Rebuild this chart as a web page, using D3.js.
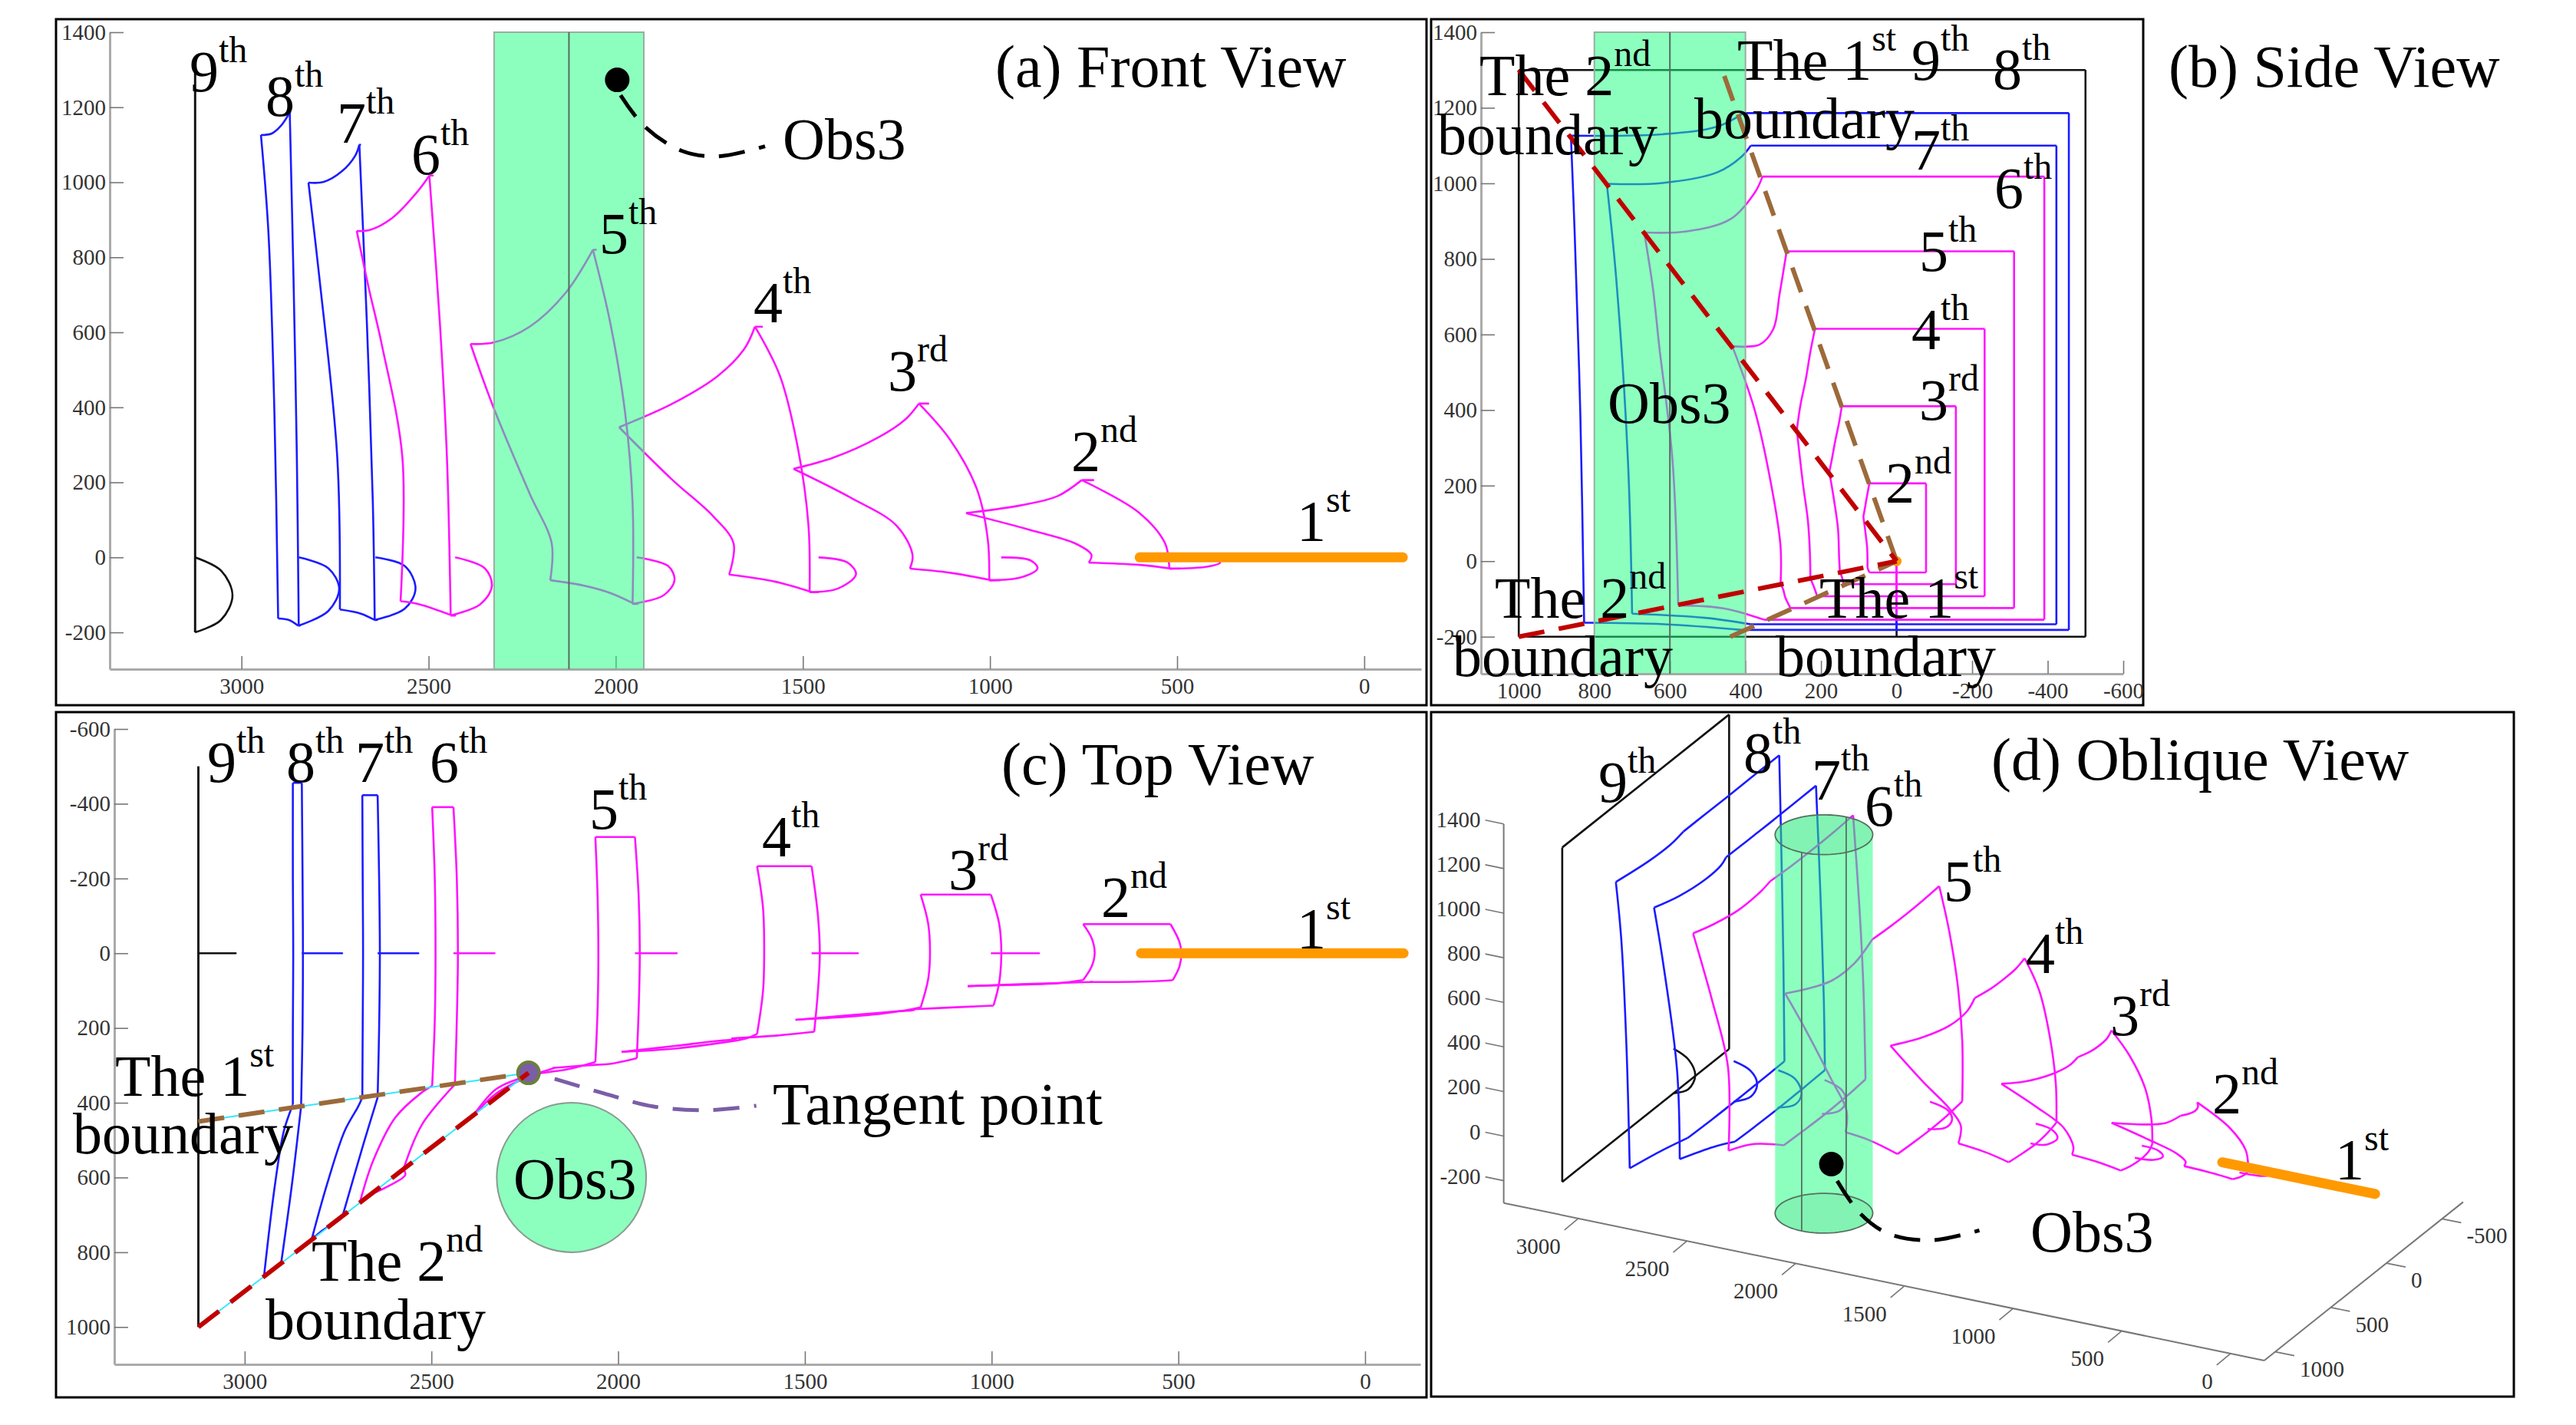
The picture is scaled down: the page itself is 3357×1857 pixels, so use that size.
<!DOCTYPE html>
<html>
<head>
<meta charset="utf-8">
<script src="https://cdn.jsdelivr.net/npm/d3@7/dist/d3.min.js"></script>
<style>
  html, body { margin: 0; padding: 0; background: #fff; }
  svg { display: block; }
  text { font-family: "Liberation Serif", serif; }
</style>
</head>
<body>
<div id="chart"></div>
<script>
// each wave is a list of curve pieces, points are [x, y, z]
// pieces: outer edge, lower edge, bottom arc, inner side, top arc, upper edge, half circle at y=0
const wave2 = [
  [[755, -78, 206], [604, -78, 121], [532, -78, 37], [521, -78, -30]],
  [[521, -78, -30], [497, -30, -30], [492, 0, -30], [497, 35, -30], [515, 72, -30]],
  [[515, 72, -30], [600, 76, -20], [736, 77, -14]],
  [[736, 77, -14], [729, 77, 7], [772, 78, 37], [892, 82, 73], [1064, 88, 118]],
  [[1064, 88, 118], [916, 84, 139], [820, 80, 163], [755, 72, 206]],
  [[755, 72, 206], [732, 35, 206], [724, 0, 206], [732, -40, 206], [755, -78, 206]],
  [[520, 0, 0], [400, 0, -6], [385, 0, -14], [420, 0, -25], [521, 0, -30]]
];
const wave3 = [
  [[1190, -157, 410], [1107, -157, 314], [1035, -157, 182], [1006, -157, 49], [1002, -157, -61]],
  [[1002, -157, -61], [980, -80, -61], [974, 0, -61], [980, 80, -61], [995, 140, -61]],
  [[995, 140, -61], [1107, 145, -41], [1214, 150, -30]],
  [[1214, 150, -30], [1207, 152, 7], [1250, 155, 85], [1370, 165, 158], [1525, 178, 236]],
  [[1525, 178, 236], [1418, 172, 266], [1298, 162, 320], [1226, 152, 368], [1190, 145, 410]],
  [[1190, 145, 410], [1170, 70, 410], [1165, 0, 410], [1170, -80, 410], [1190, -157, 410]],
  [[970, 0, 0], [892, 0, -8], [873, 0, -29], [916, 0, -53], [1002, 0, -61]]
];
const wave4 = [
  [[1628, -233, 615], [1561, -233, 483], [1513, -233, 290], [1485, -233, 85], [1482, -233, -93]],
  [[1482, -233, -93], [1465, -100, -93], [1460, 0, -93], [1465, 100, -93], [1475, 210, -93]],
  [[1475, 210, -93], [1573, 220, -65], [1697, 228, -46]],
  [[1697, 228, -46], [1685, 230, 37], [1740, 235, 110], [1848, 248, 206], [1991, 264, 347]],
  [[1991, 264, 347], [1848, 255, 410], [1728, 240, 483], [1657, 228, 555], [1628, 216, 615]],
  [[1628, 216, 615], [1612, 100, 615], [1609, 0, 615], [1612, -120, 615], [1628, -233, 615]],
  [[1458, 0, 0], [1382, 0, -13], [1358, 0, -45], [1406, 0, -83], [1482, 0, -93]]
];
const wave5 = [
  [[2061, -311, 820], [2015, -311, 627], [1975, -311, 386], [1955, -311, 146], [1955, -311, -124]],
  [[1955, -311, -124], [1945, -150, -124], [1942, 0, -124], [1945, 150, -124], [1950, 281, -124]],
  [[1950, 281, -124], [2015, 295, -95], [2087, 300, -75], [2175, 307, -61]],
  [[2175, 307, -61], [2171, 307, 37], [2230, 326, 170], [2326, 375, 398], [2388, 435, 569]],
  [[2388, 435, 569], [2326, 363, 573], [2230, 326, 615], [2134, 310, 705], [2061, 291, 820]],
  [[2061, 291, 820], [2055, 150, 820], [2053, 0, 820], [2055, -150, 820], [2061, -311, 820]],
  [[1944, 0, 0], [1860, 0, -23], [1843, 0, -61], [1872, 0, -101], [1955, 0, -124]]
];
const wave6 = [
  [[2498, -391, 1018], [2470, -391, 627], [2451, -391, 266], [2441, -391, -155]],
  [[2441, -391, -155], [2432, -200, -155], [2429, 0, -155], [2432, 180, -155], [2437, 351, -155]],
  [[2437, 351, -155], [2525, 458, -125], [2575, 578, -117]],
  [[2575, 578, -117], [2570, 593, 266], [2625, 628, 567], [2661, 645, 723], [2692, 668, 870]],
  [[2692, 668, 870], [2656, 555, 873], [2597, 440, 905], [2529, 375, 976], [2498, 355, 1018]],
  [[2498, 355, 1018], [2491, 180, 1018], [2489, 0, 1018], [2491, -200, 1018], [2498, -391, 1018]],
  [[2429, 0, 0], [2350, 0, -29], [2331, 0, -77], [2362, 0, -125], [2441, 0, -155]]
];
const wave7 = [
  [[2685, -423, 1100], [2665, -423, 627], [2649, -423, 146], [2644, -423, -167]],
  [[2644, -423, -167], [2640, -200, -167], [2638, 0, -167], [2640, 200, -167], [2644, 386, -167]],
  [[2644, 386, -167], [2681, 507, -150], [2737, 700, -139]],
  [[2737, 700, -139], [2744, 711, 266], [2792, 742, 747], [2821, 767, 999]],
  [[2821, 767, 999], [2780, 620, 1001], [2732, 475, 1029], [2696, 410, 1071], [2685, 386, 1100]],
  [[2685, 386, 1100], [2684, 200, 1100], [2683, 0, 1100], [2684, -200, 1100], [2685, -423, 1100]],
  [[2642, 0, 0], [2564, 0, -23], [2535, 0, -83], [2564, 0, -137], [2644, 0, -167]]
];
const wave8 = [
  [[2871, -456, 1186], [2861, -456, 747], [2852, -456, 266], [2847, -456, -182]],
  [[2847, -456, -182], [2845, -200, -182], [2844, 0, -182], [2845, 200, -182], [2849, 410, -182]],
  [[2849, 410, -182], [2873, 615, -167], [2902, 827, -163]],
  [[2902, 827, -163], [2912, 837, 386], [2928, 852, 867], [2948, 862, 1126]],
  [[2948, 862, 1126], [2919, 620, 1130], [2895, 475, 1150], [2871, 405, 1186]],
  [[2871, 405, 1186], [2871, 200, 1186], [2870, 0, 1186], [2871, -200, 1186], [2871, -456, 1186]],
  [[2847, 0, 0], [2768, 0, -29], [2739, 0, -83], [2768, 0, -143], [2847, 0, -182]]
];
const wave9 = [
  [[3124, -500, 1300], [3124, -500, -200]],
  [[3124, -500, -200], [3124, 1000, -200]],
  [[3124, 1000, -200], [3124, 1000, 1300]],
  [[3124, 1000, 1300], [3124, -500, 1300]],
  [[3124, 0, 0], [3055, 0, -35], [3024, 0, -101], [3055, 0, -167], [3124, 0, -200]]
];
const wave1 = [[600, 0, 0], [-103, 0, 0]];

const obsCenter = [2125, 600];
const obsRadius = 200;
const obsHeight = [-298, 1400];

const boundary2Side = [
  [[0, 1000, 1300], [0, 0, 0]],
  [[0, 1000, -200], [0, 0, 0]]
];
const boundary1Side = [
  [[0, 456, 1284], [0, 0, 0]],
  [[0, 440, -200], [0, 0, 0]]
];
const boundary1Top = [[3124, 450, 0], [2240, 320, 0]];
const boundary2Top = [[3124, 1000, 0], [2240, 320, 0]];
const tangentPoint = [2240, 320, 0];
const tangentCallout = [[2170, 336, 0], [2045, 373, 0], [1905, 410, 0], [1762, 420, 0], [1630, 408, 0]];

const obsDotFront = [1996, 0, 1273];
const obsCalloutFront = [[1987, 0, 1232], [1924, 0, 1150], [1824, 0, 1084], [1728, 0, 1069], [1601, 0, 1096]];
const obsDotOblique = [2398, 0, -371];
const obsCalloutOblique = [[2371, 0, -441], [2267, 0, -565], [2137, 0, -630], [1943, 0, -621], [1717, 0, -531]];

const xTicks = [3000, 2500, 2000, 1500, 1000, 500, 0];
const zTicks = [1400, 1200, 1000, 800, 600, 400, 200, 0, -200];
const sideTicks = [1000, 800, 600, 400, 200, 0, -200, -400, -600];
const topTicks = [-600, -400, -200, 0, 200, 400, 600, 800, 1000];
const obliqueYTicks = [1000, 500, 0, -500];

// text tables: [main text, superscript, left, baseline]
const frontLabels = [
  ["9", "th", 247, 119], ["8", "th", 346, 151], ["7", "th", 439, 186], ["6", "th", 536, 227],
  ["5", "th", 781, 330], ["4", "th", 982, 420], ["3", "rd", 1157, 509], ["2", "nd", 1396, 614],
  ["1", "st", 1690, 705], ["Obs3", "", 1020, 207]
];
const sideLabels = [
  ["The 2", "nd", 1928, 124], ["boundary", "", 1873, 201], ["The 1", "st", 2264, 104], ["boundary", "", 2208, 180],
  ["9", "th", 2491, 104], ["8", "th", 2597, 116], ["7", "th", 2491, 221], ["6", "th", 2599, 271],
  ["5", "th", 2501, 353], ["4", "th", 2491, 455], ["3", "rd", 2501, 547], ["2", "nd", 2457, 655],
  ["Obs3", "", 2095, 551], ["The 2", "nd", 1948, 805], ["boundary", "", 1893, 881],
  ["The 1", "st", 2371, 805], ["boundary", "", 2314, 881]
];
const topLabels = [
  ["9", "th", 270, 1019], ["8", "th", 373, 1019], ["7", "th", 463, 1019], ["6", "th", 560, 1019],
  ["5", "th", 768, 1080], ["4", "th", 993, 1116], ["3", "rd", 1236, 1159], ["2", "nd", 1435, 1195],
  ["1", "st", 1690, 1236], ["The 1", "st", 150, 1428], ["boundary", "", 95, 1503],
  ["The 2", "nd", 406, 1669], ["boundary", "", 346, 1745],
  ["Obs3", "", 669, 1562]
];
const obliqueLabels = [
  ["9", "th", 2083, 1045], ["8", "th", 2272, 1007], ["7", "th", 2361, 1042], ["6", "th", 2430, 1076],
  ["5", "th", 2533, 1174], ["4", "th", 2640, 1268], ["3", "rd", 2750, 1349], ["2", "nd", 2883, 1451],
  ["1", "st", 3043, 1537], ["Obs3", "", 2646, 1631]
];
const titleLabels = [
  ["(a) Front View", "", 1297, 113], ["(b) Side View", "", 2826, 113],
  ["(c) Top View", "", 1305, 1022], ["(d) Oblique View", "", 2595, 1016],
  ["Tangent point", "", 1007, 1465]
];

const width = 3357;
const height = 1857;
const black = "#111";
const blue = "#1c1cff";
const magenta = "#ff14ff";
const orange = "#ff9900";
const obsFill = "rgba(29,255,127,0.51)";
const red = "#c00000";
const brown = "#9c6a3a";
const purple = "#7b5ea7";

const waves = [
  { data: wave9, color: black },
  { data: wave8, color: blue },
  { data: wave7, color: blue },
  { data: wave6, color: magenta },
  { data: wave5, color: magenta },
  { data: wave4, color: magenta },
  { data: wave3, color: magenta },
  { data: wave2, color: magenta }
];

const svg = d3.select("#chart").append("svg").attr("width", width).attr("height", height);
svg.append("rect").attr("width", width).attr("height", height).attr("fill", "#fff");

// panel frames
[[73, 25, 1786, 894], [1865, 25, 928, 894], [73, 928, 1786, 893], [1865, 928, 1411, 892]].forEach((f) => {
  svg.append("rect")
    .attr("x", f[0]).attr("y", f[1]).attr("width", f[2]).attr("height", f[3])
    .attr("fill", "none").attr("stroke", "#000").attr("stroke-width", 3);
});

// scales for the flat views
const xFront = d3.scaleLinear().domain([3352, -152]).range([143, 1852]);
const zFront = d3.scaleLinear().domain([-298, 1400]).range([872, 42]);
const ySide = d3.scaleLinear().domain([1100, -600]).range([1930, 2767]);
const zSide = d3.scaleLinear().domain([-298, 1400]).range([878, 42]);
const xTop = d3.scaleLinear().domain([3349, -148]).range([149, 1851]);
const yTop = d3.scaleLinear().domain([-600, 1100]).range([950, 1778]);

// oblique view: each data axis adds its own screen offset
const obX = d3.scaleLinear().domain([0, 3000]).range([3066, 2216]);
const obXdown = d3.scaleLinear().domain([0, 3000]).range([1637, 1461]);
const obY = d3.scaleLinear().domain([0, 1000]).range([0, -145]);
const obYdown = d3.scaleLinear().domain([0, 1000]).range([0, 115.5]);
const obZ = d3.scaleLinear().domain([-300, 1400]).range([0, -493.9]);

const front = (p) => [xFront(p[0]), zFront(p[2])];
const side = (p) => [ySide(p[1]), zSide(p[2])];
const top_ = (p) => [xTop(p[0]), yTop(p[1])];
const oblique = (p) => [obX(p[0]) + obY(p[1]), obXdown(p[0]) + obYdown(p[1]) + obZ(p[2])];

const curve = d3.line().curve(d3.curveCatmullRom.alpha(0.5));

function drawWaves(g, project) {
  waves.forEach((w) => {
    g.selectAll(null)
      .data(w.data)
      .enter()
      .append("path")
      .attr("d", (piece) => curve(piece.map(project)))
      .attr("fill", "none")
      .attr("stroke", w.color)
      .attr("stroke-width", 2.6)
      .attr("stroke-linejoin", "round");
  });
}

function drawFirst(g, project) {
  g.append("path")
    .attr("d", d3.line()(wave1.map(project)))
    .attr("stroke", orange)
    .attr("stroke-width", 13)
    .attr("stroke-linecap", "round");
}

function dashed(g, points, project, color, w, smooth) {
  g.append("path")
    .attr("d", (smooth ? curve : d3.line())(points.map(project)))
    .attr("fill", "none")
    .attr("stroke", color)
    .attr("stroke-width", w)
    .attr("stroke-dasharray", "34 19")
    .attr("stroke-linecap", "butt");
}

function dot(g, p, project) {
  const c = project(p);
  g.append("circle").attr("cx", c[0]).attr("cy", c[1]).attr("r", 16).attr("fill", "#000");
}

function addLabels(table, size) {
  table.forEach((d) => {
    const t = svg.append("text")
      .attr("x", d[2]).attr("y", d[3])
      .attr("font-size", size || 76).attr("fill", "#000")
      .text(d[0]);
    if (d[1]) {
      t.append("tspan").attr("dy", -38).attr("font-size", 48).text(d[1]);
    }
  });
}

function styleAxis(g) {
  g.select(".domain").attr("stroke", "#aaa").attr("stroke-width", 3);
  g.selectAll(".tick line").attr("stroke", "#777").attr("stroke-width", 1.6);
  g.selectAll(".tick text")
    .attr("font-size", 29).attr("fill", "#333")
    .attr("font-family", "'Liberation Serif', serif");
}

function bottomAxis(scale, ticks, y, pad) {
  svg.append("g")
    .attr("transform", `translate(0,${y})`)
    .call(d3.axisBottom(scale).tickValues(ticks).tickFormat(String).tickSizeInner(-17).tickSizeOuter(0).tickPadding(pad))
    .call(styleAxis);
}

function leftAxis(scale, ticks, x) {
  svg.append("g")
    .attr("transform", `translate(${x},0)`)
    .call(d3.axisLeft(scale).tickValues(ticks).tickFormat(String).tickSizeInner(-18).tickSizeOuter(0).tickPadding(5))
    .call(styleAxis);
}

// (a) front view
bottomAxis(xFront, xTicks, 872, 11);
leftAxis(zFront, zTicks, 143);
const gFront = svg.append("g");
drawWaves(gFront, front);
drawFirst(gFront, front);
gFront.append("rect")
  .attr("x", xFront(obsCenter[0] + obsRadius))
  .attr("y", zFront(obsHeight[1]))
  .attr("width", xFront(obsCenter[0] - obsRadius) - xFront(obsCenter[0] + obsRadius))
  .attr("height", zFront(obsHeight[0]) - zFront(obsHeight[1]))
  .attr("fill", obsFill).attr("stroke", "#9aaea2").attr("stroke-width", 2);
gFront.append("line")
  .attr("x1", xFront(obsCenter[0])).attr("x2", xFront(obsCenter[0]))
  .attr("y1", zFront(obsHeight[1])).attr("y2", zFront(obsHeight[0]))
  .attr("stroke", "#556b60").attr("stroke-width", 2);
dot(gFront, obsDotFront, front);
dashed(gFront, obsCalloutFront, front, "#000", 5, true);
addLabels(frontLabels);

// (b) side view
bottomAxis(ySide, sideTicks, 878, 11);
leftAxis(zSide, zTicks, 1930);
const gSide = svg.append("g");
drawWaves(gSide, side);
drawFirst(gSide, side);
gSide.append("rect")
  .attr("x", ySide(obsCenter[1] + obsRadius))
  .attr("y", zSide(obsHeight[1]))
  .attr("width", ySide(obsCenter[1] - obsRadius) - ySide(obsCenter[1] + obsRadius))
  .attr("height", zSide(obsHeight[0]) - zSide(obsHeight[1]))
  .attr("fill", obsFill).attr("stroke", "#9aaea2").attr("stroke-width", 2);
gSide.append("line")
  .attr("x1", ySide(obsCenter[1])).attr("x2", ySide(obsCenter[1]))
  .attr("y1", zSide(obsHeight[1])).attr("y2", zSide(obsHeight[0]))
  .attr("stroke", "#556b60").attr("stroke-width", 2);
boundary1Side.forEach((b) => dashed(gSide, b, side, brown, 6));
boundary2Side.forEach((b) => dashed(gSide, b, side, red, 6));
addLabels(sideLabels);

// (c) top view
bottomAxis(xTop, xTicks, 1778, 11);
leftAxis(yTop, topTicks, 149);
const gTop = svg.append("g");
drawWaves(gTop, top_);
drawFirst(gTop, top_);
gTop.append("ellipse")
  .attr("cx", xTop(obsCenter[0])).attr("cy", yTop(obsCenter[1]))
  .attr("rx", xTop(obsCenter[0] - obsRadius) - xTop(obsCenter[0]))
  .attr("ry", yTop(obsCenter[1] + obsRadius) - yTop(obsCenter[1]))
  .attr("fill", "#8cffbe").attr("stroke", "#8a9a90").attr("stroke-width", 2);
[boundary1Top, boundary2Top].forEach((b) => {
  gTop.append("path").attr("d", d3.line()(b.map(top_)))
    .attr("stroke", "#35e6ff").attr("stroke-width", 2);
});
dashed(gTop, boundary1Top, top_, brown, 6);
gTop.append("circle")
  .attr("cx", top_(tangentPoint)[0]).attr("cy", top_(tangentPoint)[1]).attr("r", 14)
  .attr("fill", purple).attr("stroke", "#6b7f3a").attr("stroke-width", 4);
dashed(gTop, boundary2Top, top_, red, 6);
dashed(gTop, tangentCallout, top_, purple, 5, true);
addLabels(topLabels);

// (d) oblique view
const zCorner = [3343, 1098];
const corner = [-155, 1098];
const axisInk = { stroke: "#777", width: 2 };
function obLine(a, b, w) {
  svg.append("path").attr("d", d3.line()([a, b]))
    .attr("stroke", axisInk.stroke).attr("stroke-width", w || axisInk.width).attr("fill", "none");
}
function obText(x, y, s, anchor) {
  svg.append("text").attr("x", x).attr("y", y).attr("text-anchor", anchor)
    .attr("font-size", 29).attr("fill", "#333").text(s);
}
obLine(oblique([zCorner[0], zCorner[1], -300]), oblique([zCorner[0], zCorner[1], 1400]));
obLine(oblique([zCorner[0], zCorner[1], -300]), oblique([corner[0], corner[1], -300]));
obLine(oblique([corner[0], corner[1], -300]), oblique([corner[0], -690, -300]));
xTicks.forEach((x) => {
  const p = oblique([x, corner[1], -300]);
  obLine(p, [p[0] - 18, p[1] + 15], 1.6);
  obText(p[0] - 23, p[1] + 46, String(x), "end");
});
obliqueYTicks.forEach((y) => {
  const p = oblique([corner[0], y, -300]);
  obLine(p, [p[0] + 25, p[1] + 5], 1.6);
  obText(p[0] + 32, p[1] + 32, String(y), "start");
});
zTicks.forEach((z) => {
  const p = oblique([zCorner[0], zCorner[1], z]);
  obLine(p, [p[0] - 24, p[1] - 5], 1.6);
  obText(p[0] - 30, p[1] + 4, String(z), "end");
});

const gOb = svg.append("g");
drawWaves(gOb, oblique);
drawFirst(gOb, oblique);
const ring = (z) => d3.range(0, 360, 5).map((a) => oblique([
  obsCenter[0] + obsRadius * Math.cos(a * Math.PI / 180),
  obsCenter[1] + obsRadius * Math.sin(a * Math.PI / 180),
  z
]));
gOb.append("path")
  .attr("d", "M" + d3.polygonHull(ring(obsHeight[0]).concat(ring(obsHeight[1]))).join("L") + "Z")
  .attr("fill", obsFill);
obsHeight.forEach((z) => {
  gOb.append("path").attr("d", d3.line().curve(d3.curveLinearClosed)(ring(z)))
    .attr("fill", "rgba(60,160,110,0.12)").attr("stroke", "#55705f").attr("stroke-width", 1.8);
});
[[obsCenter[0], obsCenter[1] + obsRadius], [obsCenter[0], obsCenter[1] - obsRadius]].forEach((c) => {
  gOb.append("path")
    .attr("d", d3.line()([oblique([c[0], c[1], obsHeight[0]]), oblique([c[0], c[1], obsHeight[1]])]))
    .attr("stroke", "#55705f").attr("stroke-width", 1.8);
});
dot(gOb, obsDotOblique, oblique);
dashed(gOb, obsCalloutOblique, oblique, "#000", 5, true);
addLabels(obliqueLabels);
addLabels(titleLabels, 78);
</script>
</body>
</html>
